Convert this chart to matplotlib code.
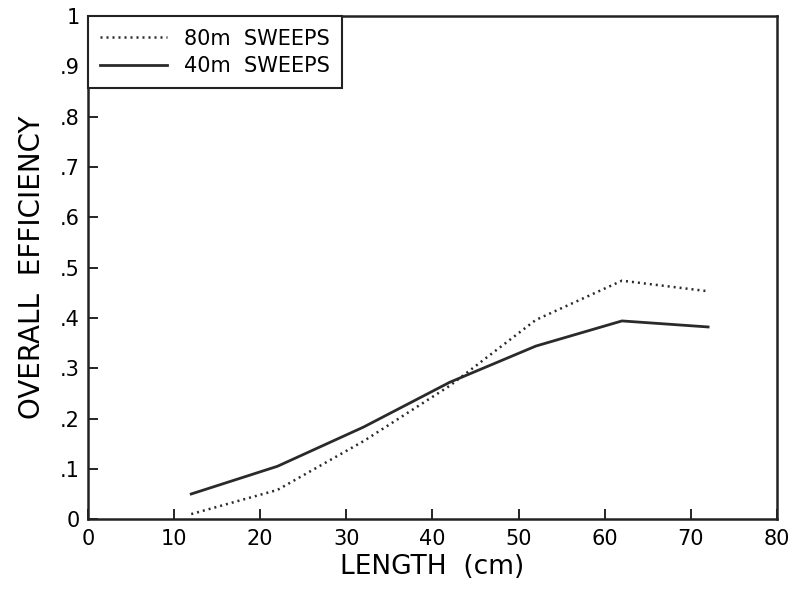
import matplotlib.pyplot as plt

# длина, см
length = [12, 22, 32, 42, 52, 62, 72]
# общая эффективность для двух вариантов траления
eff_80m = [0.010, 0.058, 0.155, 0.265, 0.396, 0.474, 0.453]
eff_40m = [0.050, 0.105, 0.183, 0.272, 0.344, 0.394, 0.382]

y_ticks = [0, 0.1, 0.2, 0.3, 0.4, 0.5, 0.6, 0.7, 0.8, 0.9, 1]
y_labels = ['0', '.1', '.2', '.3', '.4', '.5', '.6', '.7', '.8', '.9', '1']
x_ticks = [0, 10, 20, 30, 40, 50, 60, 70, 80]

plt.rcParams['font.family'] = ['DejaVu Sans']

fig = plt.figure(figsize=(7.99, 5.96), dpi=100)
ax = fig.add_axes([0.110, 0.129, 0.8625, 0.844])

ax.plot(length, eff_80m, color='#2a2a2a', lw=1.8, linestyle=(0, (0.8, 1.6)), label='80m  SWEEPS')
ax.plot(length, eff_40m, color='#2a2a2a', lw=2.0, label='40m  SWEEPS')

ax.set_xlim(0, 80)
ax.set_ylim(0, 1)
ax.set_xticks(x_ticks)
ax.set_yticks(y_ticks)
ax.set_yticklabels(y_labels)
ax.tick_params(direction='in', length=7, width=1.2, labelsize=15, pad=6)
ax.tick_params(axis='x', pad=7)
for s in ax.spines.values():
    s.set_linewidth(1.8)
    s.set_color('#222222')

ax.set_xlabel('LENGTH  (cm)', fontsize=19, labelpad=4)
ax.set_ylabel('OVERALL  EFFICIENCY', fontsize=20, labelpad=10)

leg = ax.legend(loc='upper left', fontsize=15, frameon=True, fancybox=False,
                borderaxespad=0, handlelength=3.2, handletextpad=0.8,
                borderpad=0.6, labelspacing=0.35, framealpha=1)
leg.get_frame().set_edgecolor('#222222')
leg.get_frame().set_linewidth(1.5)

fig.savefig('out.png', dpi=100)
